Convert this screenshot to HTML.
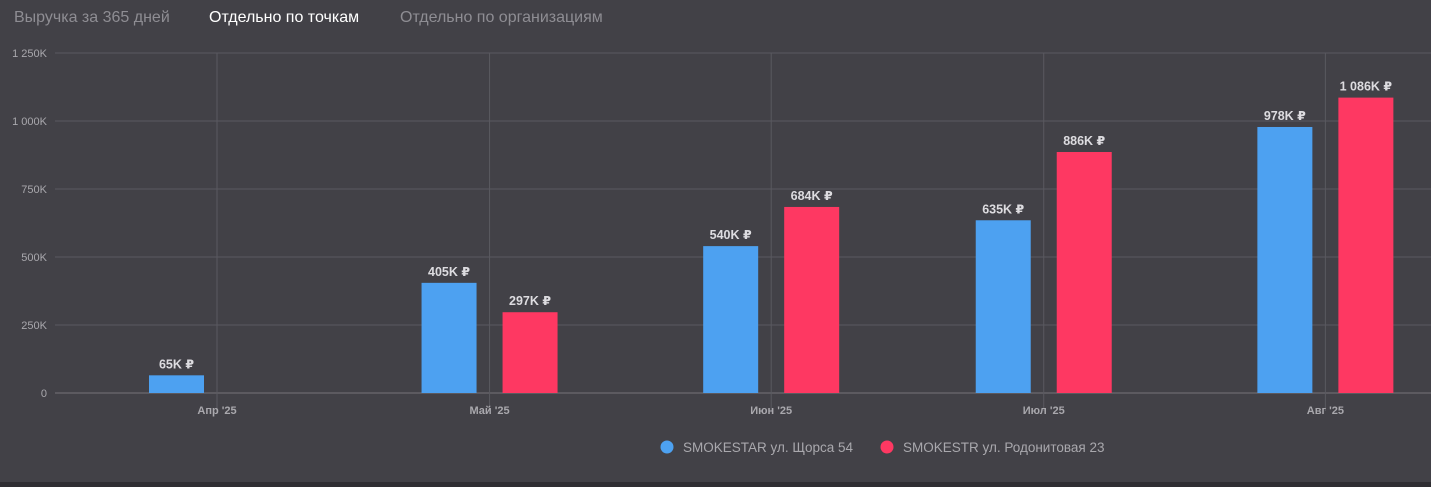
<!DOCTYPE html>
<html><head><meta charset="utf-8"><style>
html,body{margin:0;padding:0;background:#424147;width:1431px;height:487px;overflow:hidden;font-family:"Liberation Sans","DejaVu Sans",sans-serif}
.tabs{position:absolute;top:9px;left:14px;font-size:16px;color:#8e8d93;white-space:nowrap}
.tab{position:absolute;top:0}
.bottom{position:absolute;left:0;top:482px;width:1431px;height:5px;background:#2f2e33}
</style></head><body>
<div class="tabs">
<span class="tab" style="left:0">Выручка за 365 дней</span>
<span class="tab" style="left:195px;color:#fff">Отдельно по точкам</span>
<span class="tab" style="left:386px">Отдельно по организациям</span>
</div>
<svg id="chart" width="1431" height="487" style="position:absolute;left:0;top:0"></svg>
<div class="bottom"></div>
<script>
const categories = ["Апр '25","Май '25","Июн '25","Июл '25","Авг '25"];
const monthOffsetsDays = [0,30,61,91,122];
const seriesNames = ["SMOKESTAR ул. Щорса 54","SMOKESTR ул. Родонитовая 23"];
const seriesA = [65,405,540,635,978];
const seriesB = [null,297,684,886,1086];
const labelsA = ["65K ₽","405K ₽","540K ₽","635K ₽","978K ₽"];
const labelsB = [null,"297K ₽","684K ₽","886K ₽","1 086K ₽"];
const yTicks = [0,250,500,750,1000,1250];
const yTickLabels = ["0","250K","500K","750K","1 000K","1 250K"];

const svg = document.getElementById('chart');
const NS = 'http://www.w3.org/2000/svg';
const y = v => 393 - v * (340/1250);
const x = d => 217 + d * 9.085;
function mk(tag, attrs, parent){const e=document.createElementNS(NS,tag);for(const k in attrs)e.setAttribute(k,attrs[k]);(parent||svg).appendChild(e);return e;}

yTicks.forEach((t,i)=>{
  const g = mk('line',{x1:55,x2:1431,y1:y(t),y2:y(t),stroke:t===0?'#75747a':'#5a5960','stroke-width':1});
  
  
  const tx = mk('text',{x:47,y:y(t)+4,'text-anchor':'end','font-size':11,fill:'#a9a8ad'});
  tx.textContent = yTickLabels[i];
  
  
});
categories.forEach((c,i)=>{
  const cx = x(monthOffsetsDays[i]);
  const l = mk('line',{x1:cx,x2:cx,y1:53,y2:411,stroke:'#5a5960','stroke-width':1});
  
  
  const t = mk('text',{x:cx,y:414,'text-anchor':'middle','font-size':11,fill:'#a9a8ad','font-weight':'bold'});
  t.textContent = c;
  
  
});
function bar(v,lab,cx,color,name){
  if(v==null) return;
  const r = mk('rect',{x:cx,y:y(v),width:55,height:393-y(v),fill:color});
  
  
  const t = mk('text',{x:cx+27.5,y:y(v)-7,'text-anchor':'middle','font-size':12.5,'font-weight':'bold',fill:'#dddce0'});
  t.textContent = lab;
  
  
}
categories.forEach((c,i)=>{
  const cx = x(monthOffsetsDays[i]);
  bar(seriesA[i],labelsA[i],cx-68,'#4da1f1','bar-smokestar');
  bar(seriesB[i],labelsB[i],cx+13,'#fe3862','bar-smokestr');
});
const colors=['#4da1f1','#fe3862'];
const legX=[667,887];
seriesNames.forEach((n,i)=>{
  const c = mk('circle',{cx:legX[i],cy:447,r:6.5,fill:colors[i]});
  
  
  const t = mk('text',{x:legX[i]+16,y:452,'font-size':13.5,fill:'#a9a8ad'});
  t.textContent = n;
  
  
});
</script>
</body></html>
